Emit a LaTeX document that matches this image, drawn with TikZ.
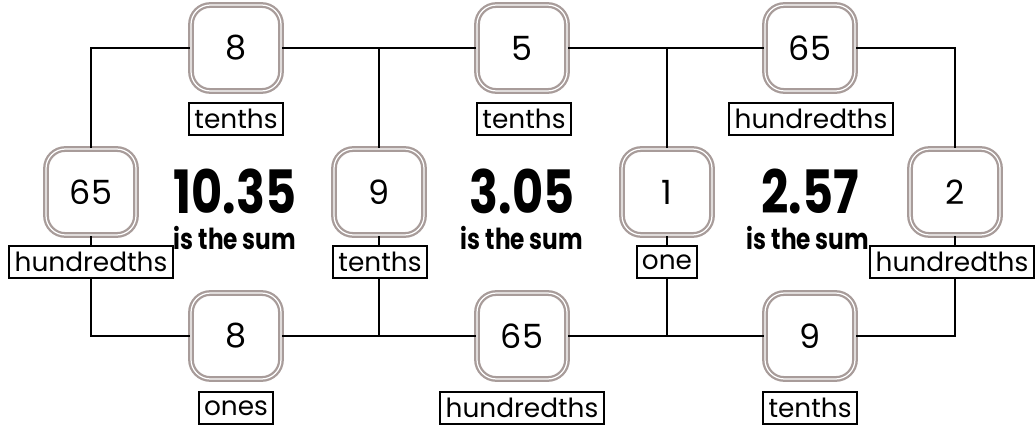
\documentclass[tikz,border=0pt]{standalone}
\usepackage{fontspec}
\setmainfont{Poppins}
\newfontfamily\sumfont[FakeStretch=0.8]{Poppins}
\definecolor{tilegray}{RGB}{168,156,154}

\begin{document}
\begin{tikzpicture}[x=0.02cm, y=-0.02cm,
	tile/.style={draw=tilegray, line width=1.3pt, double=white, double distance=0.7pt, rounded corners=11pt, fill=white, minimum width=1.8cm, minimum height=1.72cm, font=\fontsize{19}{22}\selectfont},
	unit/.style={draw, line width=1.1pt, fill=white, inner xsep=3pt, inner ysep=0pt, minimum height=0.64cm, font=\fontsize{15}{18}\selectfont},
	total/.style={anchor=base, inner sep=0pt, font=\sumfont\fontsize{34}{36}\bfseries\selectfont},
	caption/.style={anchor=base, inner sep=0pt, font=\sumfont\fontsize{16.5}{18}\bfseries\selectfont},
	wire/.style={line width=1.6pt}]
	\useasboundingbox (0,0) rectangle (1035,429);
	% corners and junctions of the three loops
	\coordinate (tl) at (91,48);
	\coordinate (j1) at (379,48);
	\coordinate (j2) at (667,48);
	\coordinate (tr) at (955,48);
	\coordinate (bl) at (91,336);
	\coordinate (k1) at (379,336);
	\coordinate (k2) at (667,336);
	\coordinate (br) at (955,336);
	% top row
	\node[tile] (t1) at (236,48) {8};
	\node[tile] (t2) at (522,48) {5};
	\node[tile] (t3) at (810,48) {65};
	\node[unit] (tu1) at (236,119) {tenths};
	\node[unit] (tu2) at (524,119) {tenths};
	\node[unit] (tu3) at (811,119) {hundredths};
	% side column
	\node[tile] (s1) at (91,192) {65};
	\node[tile] (s2) at (379,192) {9};
	\node[tile] (s3) at (667,192) {1};
	\node[tile] (s4) at (955,192) {2};
	\node[unit] (su1) at (91,262) {hundredths};
	\node[unit] (su2) at (380,262) {tenths};
	\node[unit] (su3) at (667,262) {one};
	\node[unit] (su4) at (952,262) {hundredths};
	% bottom row
	\node[tile] (b1) at (236,336) {8};
	\node[tile] (b2) at (522,336) {65};
	\node[tile] (b3) at (810,336) {9};
	\node[unit] (bu1) at (236,408) {ones};
	\node[unit] (bu2) at (522,408) {hundredths};
	\node[unit] (bu3) at (810,408) {tenths};
	% sums
	\node[total] (sum1) at (235,214) {10.35};
	\node[total] (sum2) at (522,214) {3.05};
	\node[total] (sum3) at (810,214) {2.57};
	\node[caption] (cap1) at (235,249) {is the sum};
	\node[caption] (cap2) at (522,249) {is the sum};
	\node[caption] (cap3) at (808,249) {is the sum};
	% wires
	\draw[wire] (s1) -- (tl) -- (t1);
	\draw[wire] (t1) -- (j1) -- (t2);
	\draw[wire] (j1) -- (s2);
	\draw[wire] (t2) -- (j2) -- (t3);
	\draw[wire] (j2) -- (s3);
	\draw[wire] (t3) -- (tr) -- (s4);
	\draw[wire] (s1) -- (su1);
	\draw[wire] (s2) -- (s2 |- su2.north);
	\draw[wire] (s3) -- (su3);
	\draw[wire] (s4) -- (s4 |- su4.north);
	\draw[wire] (su1) -- (bl) -- (b1);
	\draw[wire] (b1) -- (k1) -- (b2);
	\draw[wire] (k1 |- su2.south) -- (k1);
	\draw[wire] (b2) -- (k2) -- (b3);
	\draw[wire] (su3) -- (k2);
	\draw[wire] (b3) -- (br) -- (br |- su4.south);
\end{tikzpicture}
\end{document}
